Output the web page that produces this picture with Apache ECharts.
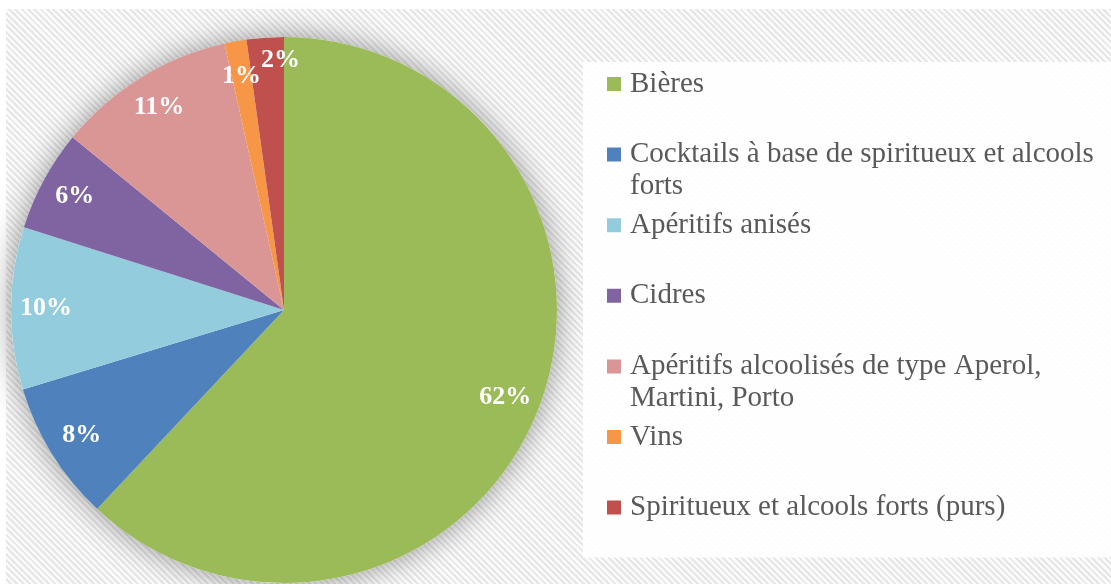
<!DOCTYPE html>
<html>
<head>
<meta charset="utf-8">
<script src="https://cdn.jsdelivr.net/npm/echarts@6/dist/echarts.min.js"></script>
<style>
  html, body { margin: 0; padding: 0; background: #fff; }
  #bg {
    position: absolute; left: 6px; top: 9px; right: 0; bottom: 0;
    background: repeating-linear-gradient(45deg, #fbfbfb 0px, #fbfbfb 2.5px, #e6e6e6 2.5px, #e6e6e6 4.5px);
  }
  #main { position: absolute; left: 0; top: 0; width: 1111px; height: 584px; }
</style>
</head>
<body>
<div id="bg"></div>
<div id="main"></div>
<script>
  const categories = [
    'Bières',
    'Cocktails à base de spiritueux et alcools forts',
    'Apéritifs anisés',
    'Cidres',
    'Apéritifs alcoolisés de type Aperol, Martini, Porto',
    'Vins',
    'Spiritueux et alcools forts (purs)'
  ]
  const values = [62.0, 8.3, 9.6, 6.0, 10.6, 1.3, 2.2]
  const colors = ['#9BBB59', '#4F81BD', '#93CDDD', '#8064A2', '#D99694', '#F79646', '#C0504D']

  const legendFont = '29px "Liberation Serif"'
  const legendTextWidth = 490

  // mesure : quels libellés passent sur deux lignes
  const ctx = document.createElement('canvas').getContext('2d')
  ctx.font = legendFont
  function wraps (s) { return ctx.measureText(s).width > legendTextWidth }

  let pieData = []
  for (let i = 0; i < categories.length; i++) {
    pieData.push({ name: categories[i], value: values[i], itemStyle: { color: colors[i] } })
  }
  const total = values.reduce((a, b) => a + b, 0)

  // étiquettes des petites parts décalées comme dans l'original
  function labelFor (d, i) {
    let item = { name: d.name, value: d.value }
    if (i === categories.length - 1) item.label = { offset: [13, -12] }
    return item
  }

  let myChart = echarts.init(document.getElementById('main'))
  let option = {
    backgroundColor: 'transparent',
    animation: false,
    legend: {
      orient: 'vertical',
      left: 583,
      top: 62,
      padding: [6, 0, 2, 24],
      backgroundColor: 'rgba(255,255,255,0.92)',
      itemWidth: 18,
      itemHeight: 64,
      itemGap: 6.6,
      // carré calé sur la première ligne du libellé
      icon: 'path://M0,0h0.01M0,9h14v14h-14zM18,64h0.01',
      itemStyle: { borderWidth: 0 },
      selectedMode: false,
      data: categories,
      // chaque entrée occupe deux lignes, comme dans Excel
      formatter: function (name) { return wraps(name) ? name : name + '\n\u00a0' },
      textStyle: {
        fontFamily: 'Liberation Serif',
        fontSize: 29,
        color: '#595959',
        lineHeight: 32,
        width: legendTextWidth,
        overflow: 'break'
      }
    },
    series: [
      {
        // ombre portée sous le camembert
        type: 'pie',
        silent: true,
        center: [284, 310],
        radius: [0, 273],
        z: 1,
        label: { show: false },
        labelLine: { show: false },
        data: [{ name: '', value: total }],
        itemStyle: {
          color: '#ffffff',
          shadowBlur: 30,
          shadowColor: 'rgba(0,0,0,0.4)'
        }
      },
      {
        name: 'Catégories',
        type: 'pie',
        center: [284, 310],
        radius: [0, 273],
        startAngle: 90,
        clockwise: true,
        z: 2,
        silent: true,
        label: { show: false },
        labelLine: { show: false },
        data: pieData
      },
      {
        // couche des étiquettes, placées vers l'extérieur
        type: 'pie',
        center: [284, 310],
        radius: [197, 273],
        startAngle: 90,
        clockwise: true,
        z: 3,
        silent: true,
        avoidLabelOverlap: false,
        minShowLabelAngle: 0,
        labelLayout: { hideOverlap: false },
        itemStyle: { color: 'rgba(0,0,0,0)' },
        labelLine: { show: false },
        label: {
          show: true,
          position: 'inside',
          formatter: function (p) { return Math.round(p.percent) + '%' },
          color: '#ffffff',
          fontFamily: 'Liberation Serif',
          fontWeight: 'bold',
          fontSize: 26
        },
        data: pieData.map(labelFor)
      }
    ]
  }
  myChart.setOption(option)
</script>
</body>
</html>
